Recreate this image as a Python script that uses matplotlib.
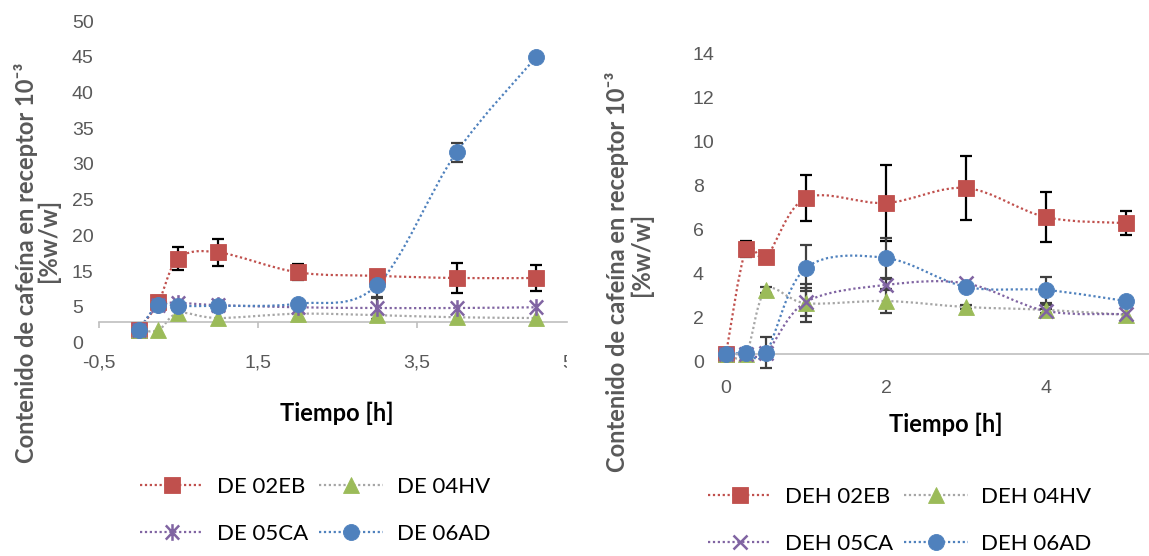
import numpy as np
import matplotlib
matplotlib.use("Agg")
import matplotlib.pyplot as plt
from matplotlib.path import Path
from matplotlib.patches import PathPatch
from matplotlib.lines import Line2D
from matplotlib.transforms import ScaledTranslation, Bbox, TransformedBbox

W, H, DPI = 1149, 556, 100

# sampling times [h]
t = [0, 0.25, 0.5, 1, 2, 3, 4, 5]

# --- DE formulations (left panel) ---
de_labels = ["DE 02EB", "DE 04HV", "DE 05CA", "DE 06AD"]
de_02eb = [5.6, 9.5, 15.6, 16.5, 13.7, 13.2, 12.9, 12.9]
de_02eb_err = [0, 0.9, 1.6, 1.9, 1.1, 0.6, 2.1, 1.8]
de_04hv = [5.6, 5.6, 8.0, 7.3, 7.9, 7.7, 7.4, 7.3]
de_04hv_err = [0, 0, 0, 0, 0, 0, 0, 0]
de_05ca = [5.6, 9.1, 9.4, 9.1, 8.8, 8.7, 8.7, 8.8]
de_05ca_err = [0, 0, 0, 0, 0, 1.5, 0, 0]
de_06ad = [5.6, 9.1, 9.0, 9.0, 9.3, 11.9, 30.5, 43.8]
de_06ad_err = [0, 0, 0, 0, 0, 1.8, 1.3, 0]

# --- DEH formulations (right panel) ---
deh_labels = ["DEH 02EB", "DEH 04HV", "DEH 05CA", "DEH 06AD"]
deh_02eb = [0.0, 4.75, 4.4, 7.07, 6.84, 7.52, 6.2, 5.93]
deh_02eb_err = [0, 0.35, 0, 1.06, 1.72, 1.45, 1.13, 0.54]
deh_04hv = [0.0, 0.0, 2.9, 2.3, 2.4, 2.13, 2.0, 1.77]
deh_04hv_err = [0, 0, 0.15, 0.86, 0.54, 0.1, 0.2, 0]
deh_05ca = [0.0, 0.0, 0.05, 2.36, 3.13, 3.2, 1.95, 1.81]
deh_05ca_err = [0, 0, 0, 0.65, 0.25, 0, 0.1, 0]
deh_06ad = [0.0, 0.05, 0.05, 3.9, 4.35, 3.04, 2.9, 2.4]
deh_06ad_err = [0, 0, 0.7, 1.04, 0.9, 0, 0.6, 0]

left_yticks = [5, 10, 15, 20, 25, 30, 35, 40, 45, 50]
left_yticklabels = ["0", "5", "15", "20", "25", "30", "35", "40", "45", "50"]
left_xticks = [-0.5, 1.5, 3.5, 5.5]
left_xticklabels = ["-0,5", "1,5", "3,5", "5,5"]
right_yticks = [0, 2, 4, 6, 8, 10, 12, 14]
right_xticks = [0, 2, 4]

RED, GREEN, PURPLE, BLUE = "#C0504D", "#9BBB59", "#8064A2", "#4F81BD"
GRAYLINE = "#A6A6A6"
TICKGRAY = "#595959"
AXISGRAY = "#BFBFBF"

TICKFONT = "Liberation Sans"
TEXTFONT = ["Lato", "DejaVu Sans"]

# asterisk-style star marker: vertical stroke plus a cross
star = Path([(0, -1), (0, 1), (-0.8, -0.85), (0.8, 0.85), (-0.8, 0.85), (0.8, -0.85)],
            [Path.MOVETO, Path.LINETO] * 3)

DOTS = (0, (1, 1.2))
LW = 1.6
LEGFS = 16

fig = plt.figure(figsize=(W / DPI, H / DPI), dpi=DPI)


def axes_px(x0, x1, ytop, ybot):
    return fig.add_axes([x0 / W, 1 - ybot / H, (x1 - x0) / W, (ybot - ytop) / H])


def smooth_path(x, y):
    p = np.column_stack([x, y]).astype(float)
    n = len(p)
    verts, codes = [p[0]], [Path.MOVETO]
    for i in range(n - 1):
        p0 = p[i - 1] if i > 0 else p[i]
        p3 = p[i + 2] if i + 2 < n else p[i + 1]
        verts += [p[i] + (p[i + 1] - p0) / 6, p[i + 1] - (p3 - p[i]) / 6, p[i + 1]]
        codes += [Path.CURVE4] * 3
    return Path(verts, codes)


def is_open(marker):
    return marker is star or marker == "x"


def draw_series(ax, x, y, err, line_color, marker, mcolor, ms, z, ecolor):
    ax.add_patch(PathPatch(smooth_path(x, y), fill=False, edgecolor=line_color,
                           lw=LW, linestyle=DOTS, clip_on=False, zorder=2))
    x = np.asarray(x, float)
    y = np.asarray(y, float)
    err = np.asarray(err, float)
    m = err > 0
    if m.any():
        ax.errorbar(x[m], y[m], yerr=err[m], fmt="none", ecolor=ecolor,
                    elinewidth=1.6, capsize=4.3, capthick=1.6, clip_on=False,
                    zorder=3 + z)
    if is_open(marker):
        ax.plot(x, y, linestyle="none", marker=marker, ms=ms, mec=mcolor,
                mfc="none", mew=1.8, clip_on=False, zorder=4 + z)
    else:
        ax.plot(x, y, linestyle="none", marker=marker, ms=ms, mec=mcolor,
                mfc=mcolor, mew=0.6, clip_on=False, zorder=4 + z)


def legend_handle(line_color, marker, mcolor, ms):
    filled = not is_open(marker)
    return Line2D([], [], color=line_color, lw=LW, linestyle=DOTS, marker=marker,
                  ms=ms, mec=mcolor, mfc=mcolor if filled else "none",
                  mew=0.6 if filled else 1.8)


def shift_yticklabels(ax, dy_px):
    off = ScaledTranslation(0, -dy_px / DPI, fig.dpi_scale_trans)
    for tk in ax.yaxis.get_major_ticks():
        tk.label1.set_transform(tk.label1.get_transform() + off)


def add_legend(series, labels, x_px, y_px):
    hs = [legend_handle(lc, mk, mc, ms) for _, _, lc, mk, mc, ms, _, _ in series]
    order = [0, 2, 1, 3]  # two rows, filled row by row
    fig.legend([hs[i] for i in order], [labels[i] for i in order],
               loc="upper left", bbox_to_anchor=(x_px / W, 1 - y_px / H),
               ncol=2, frameon=False, borderpad=0, borderaxespad=0,
               handlelength=2.85, handletextpad=0.62, columnspacing=0.5,
               labelspacing=1.2, prop={"family": TEXTFONT, "size": LEGFS},
               numpoints=1)


def add_ylabel(x1, y1, x2, y2):
    kw = dict(rotation=90, ha="center", va="center", fontsize=17,
              fontweight="bold", family=TEXTFONT, color=TICKGRAY)
    fig.text(x1 / W, 1 - y1 / H, "Contenido de cafeína en receptor 10⁻³", **kw)
    fig.text(x2 / W, 1 - y2 / H, "[%w/w]", **kw)


# ================= left panel =================
ax1 = axes_px(98.75, 575.75, 13 - 0.5 * 7.143, 13 + (50 - 4.9) * 7.143)
ax1.set_xlim(-0.5, 5.5)
ax1.set_ylim(4.9, 50.5)
for s in ("top", "right", "left"):
    ax1.spines[s].set_visible(False)
ax1.spines["bottom"].set_position(("data", 6.74))
ax1.spines["bottom"].set_color(AXISGRAY)
ax1.spines["bottom"].set_linewidth(1.2)
ax1.spines["bottom"].set_bounds(-0.5, 5.39)
ax1.set_yticks(left_yticks)
ax1.set_yticklabels(left_yticklabels)
ax1.set_xticks(left_xticks)
ax1.set_xticklabels(left_xticklabels)
ax1.tick_params(axis="y", length=0, pad=19.3, labelsize=14, labelcolor=TICKGRAY)
ax1.tick_params(axis="x", length=4.3, width=1.2, color=AXISGRAY, direction="out",
                pad=19, labelsize=14, labelcolor=TICKGRAY)
for lab in ax1.get_yticklabels() + ax1.get_xticklabels():
    lab.set_fontfamily(TICKFONT)
for lab in ax1.get_yticklabels():
    lab.set_horizontalalignment("left")
shift_yticklabels(ax1, 8)
clip_left = TransformedBbox(Bbox([[0, 0], [567 / W, 1]]), fig.transFigure)
for tk in ax1.xaxis.get_major_ticks():
    for art in (tk.label1, tk.tick1line):
        art.set_clip_box(clip_left)
        art.set_clip_on(True)

left_series = [
    (de_02eb, de_02eb_err, RED, "s", RED, 12, 0.0, "black"),
    (de_04hv, de_04hv_err, GRAYLINE, "^", GREEN, 11, 0.1, "#404040"),
    (de_05ca, de_05ca_err, PURPLE, star, PURPLE, 12, 0.2, "#404040"),
    (de_06ad, de_06ad_err, BLUE, "o", BLUE, 11.5, 0.3, "#404040"),
]
for y, e, lc, mk, mc, ms, z, ec in left_series:
    draw_series(ax1, t, y, e, lc, mk, mc, ms, z, ec)

fig.text(337 / W, 1 - 413 / H, "Tiempo [h]", ha="center", va="center",
         fontsize=17, fontweight="bold", family=TEXTFONT, color="black")
add_ylabel(26, 263, 48, 240)
add_legend(left_series, de_labels, 140, 477)

# ================= right panel =================
ax2 = axes_px(726, 1149, 354 - 14.3 * 22.07, 354)
ax2.set_xlim(0, 423 / 80)
ax2.set_ylim(0, 14.3)
for s in ("top", "right", "left"):
    ax2.spines[s].set_visible(False)
ax2.spines["bottom"].set_color(AXISGRAY)
ax2.spines["bottom"].set_linewidth(1.2)
ax2.set_yticks(right_yticks)
ax2.set_xticks(right_xticks)
ax2.tick_params(axis="y", length=0, pad=23.8, labelsize=14, labelcolor=TICKGRAY)
ax2.tick_params(axis="x", length=0, pad=18.5, labelsize=14, labelcolor=TICKGRAY)
for lab in ax2.get_yticklabels() + ax2.get_xticklabels():
    lab.set_fontfamily(TICKFONT)
for lab in ax2.get_yticklabels():
    lab.set_horizontalalignment("left")
shift_yticklabels(ax2, 8)

right_series = [
    (deh_02eb, deh_02eb_err, RED, "s", RED, 12, 0.0, "black"),
    (deh_04hv, deh_04hv_err, GRAYLINE, "^", GREEN, 11, 0.1, "#404040"),
    (deh_05ca, deh_05ca_err, PURPLE, "x", PURPLE, 10, 0.2, "#404040"),
    (deh_06ad, deh_06ad_err, BLUE, "o", BLUE, 11.5, 0.3, "#404040"),
]
for y, e, lc, mk, mc, ms, z, ec in right_series:
    draw_series(ax2, t, y, e, lc, mk, mc, ms, z, ec)

fig.text(946 / W, 1 - 424 / H, "Tiempo [h]", ha="center", va="center",
         fontsize=17, fontweight="bold", family=TEXTFONT, color="black")
add_ylabel(617, 272, 641, 254)
add_legend(right_series, deh_labels, 708, 487)

fig.savefig("out.png", dpi=DPI)
